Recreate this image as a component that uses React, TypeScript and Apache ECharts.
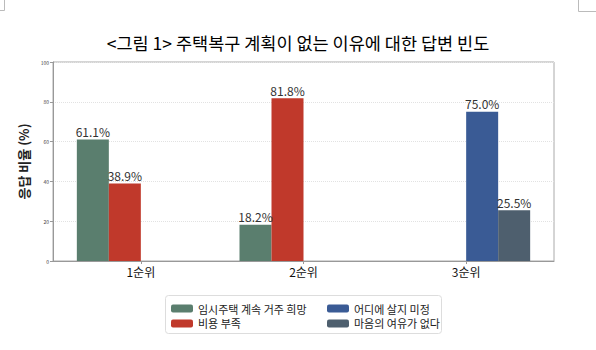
import React, { useEffect, useRef } from "react";
import * as echarts from "echarts";

const categories = ["1순위", "2순위", "3순위"];
const seriesNames = ["임시주택 계속 거주 희망", "비용 부족", "어디에 살지 미정", "마음의 여유가 없다"];
const hopeTemp = [61.1, 18.2, 0];
const costShort = [38.9, 81.8, 0];
const undecided = [0, 0, 75.0];
const noRoom = [0, 0, 25.5];
const colors = ["#5a7e6e", "#c0392b", "#3a5b95", "#4e5f6e"];
const yTicks = [0, 20, 40, 60, 80, 100];
const catPositions = [0, 1, 2];

const FONT = "'Noto Sans CJK KR', 'Noto Sans', sans-serif";

export default function App() {
  const ref = useRef<HTMLDivElement>(null);
  useEffect(() => {
    if (!ref.current) return;
    const chart = echarts.init(ref.current, null, { renderer: "svg" });
    const allData = [hopeTemp, costShort, undecided, noRoom];
    const series = allData.map((d, i) => ({
      name: seriesNames[i],
      type: "bar",
      data: d.map((v, j) => [catPositions[j], v]).filter((p) => p[1] !== 0),
      barWidth: 32,
      barGap: "0%",
      itemStyle: { color: colors[i] },
      label: {
        show: true,
        position: "top",
        distance: 2,
        formatter: (p: any) => `${p.value[1].toFixed(1)}%`,
        fontFamily: FONT,
        fontSize: 12,
        color: "#333",
      },
    }));
    const legendText = { fontFamily: FONT, fontSize: 11, color: "#222" };
    chart.setOption({
      animation: false,
      title: {
        text: "<그림 1> 주택복구 계획이 없는 이유에 대한 답변 빈도",
        left: "center",
        top: 29,
        textStyle: { fontFamily: FONT, fontSize: 17.5, fontWeight: "normal", color: "#000" },
      },
      grid: { left: 53, right: 42, top: 62, bottom: 89, show: true, borderColor: "#aaa", borderWidth: 1 },
      legend: [
        {
          data: [seriesNames[0], seriesNames[1]],
          orient: "vertical",
          left: 166,
          top: 298,
          itemWidth: 22,
          itemHeight: 8,
          itemGap: 4,
          textStyle: legendText,
        },
        {
          data: [seriesNames[2], seriesNames[3]],
          orient: "vertical",
          left: 322,
          top: 298,
          itemWidth: 22,
          itemHeight: 8,
          itemGap: 4,
          textStyle: legendText,
        },
      ],
      xAxis: {
        type: "value",
        min: -0.54,
        max: 2.54,
        axisLine: { show: true, onZero: false, lineStyle: { color: "#999" } },
        axisTick: { show: true, customValues: catPositions, length: 3, lineStyle: { color: "#999" } },
        axisLabel: {
          customValues: catPositions,
          formatter: (v: number) => categories[Math.round(v)] ?? "",
          fontFamily: FONT,
          fontSize: 12,
          color: "#111",
          margin: 4,
        },
        splitLine: { show: false },
      },
      yAxis: {
        type: "value",
        min: yTicks[0],
        max: yTicks[yTicks.length - 1],
        interval: 20,
        name: "응답 비율 (%)",
        nameLocation: "middle",
        nameGap: 19,
        nameTextStyle: { fontFamily: FONT, fontSize: 13, fontWeight: "bold", color: "#222" },
        axisLine: { show: true, onZero: false, lineStyle: { color: "#999" } },
        axisTick: { show: true, length: 3, lineStyle: { color: "#999" } },
        axisLabel: { fontFamily: FONT, fontSize: 5, color: "#444", margin: 4 },
        splitLine: { show: true, lineStyle: { color: "#e2e2e2", type: "dotted" } },
      },
      graphic: [
        {
          type: "rect",
          shape: { x: 165.5, y: 295.5, width: 276, height: 38, r: 3 },
          style: { fill: "none", stroke: "#ddd", lineWidth: 1 },
          silent: true,
        },
        { type: "line", shape: { x1: 4.5, y1: 0, x2: 4.5, y2: 10.5 }, style: { stroke: "#bbb", lineWidth: 1 } },
        { type: "line", shape: { x1: 0, y1: 10.5, x2: 4.5, y2: 10.5 }, style: { stroke: "#bbb", lineWidth: 1 } },
        { type: "line", shape: { x1: 578.5, y1: 0, x2: 578.5, y2: 11.5 }, style: { stroke: "#bbb", lineWidth: 1 } },
        { type: "line", shape: { x1: 578.5, y1: 11.5, x2: 596, y2: 11.5 }, style: { stroke: "#bbb", lineWidth: 1 } },
      ],
      series,
    });
    return () => chart.dispose();
  }, []);
  return <div ref={ref} style={{ width: 596, height: 350, position: "absolute", left: 0, top: 0 }} />;
}
